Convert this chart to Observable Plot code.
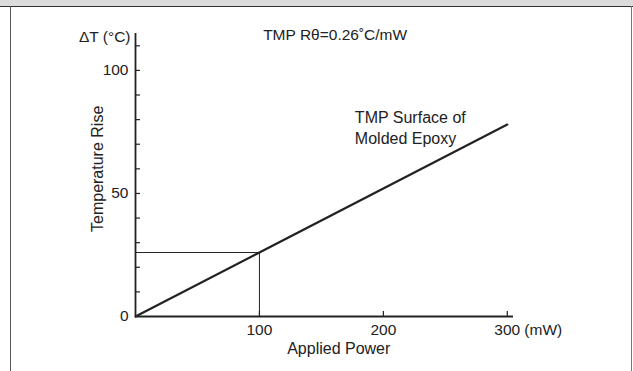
<!DOCTYPE html>
<html>
<head>
<meta charset="utf-8">
<script src="https://cdn.jsdelivr.net/npm/d3@7"></script>
<script src="https://cdn.jsdelivr.net/npm/@observablehq/plot@0.6"></script>
<style>
  html, body { margin: 0; padding: 0; background: #fff; }
  #wrap { position: relative; width: 633px; height: 371px; overflow: hidden; font-family: "Liberation Sans", Arial, sans-serif; }
  #wrap svg { position: absolute; left: 0; top: 0; }
  .hdr { position: absolute; left: 0; top: 0; width: 633px; height: 6px; background: #dcdcdc; border-bottom: 1.5px solid #333; }
  .bl { position: absolute; left: 10px; top: 6px; width: 0; height: 371px; border-left: 1.5px solid #555; }
  .br { position: absolute; left: 631px; top: 6px; width: 0; height: 371px; border-left: 1.5px solid #777; }
</style>
</head>
<body>
<div id="wrap"><div class="hdr"></div><div class="bl"></div><div class="br"></div></div>
<script>
// Data
const powerValues = [0, 300];      // mW
const riseValues = [0, 78];        // °C  (Rθ = 0.26 °C/mW)
const refPower = [100];
const refRise = [26];
const xTickValues = [100, 200, 300];
const xTickLabels = ["100", "200", "300"];
const yMinorTicks = [10, 20, 30, 40, 50, 60, 70, 80, 90, 100, 110];
const yTickLabels = [0, 50, 100];

const line = powerValues.map((p, i) => ({p, t: riseValues[i]}));
const ref = refPower.map((p, i) => ({p, t: refRise[i]}));
const ink = "#222";
const fs = 15.5;

const chart = Plot.plot({
  width: 633,
  height: 371,
  marginLeft: 135,
  marginRight: 120,
  marginTop: 33,
  marginBottom: 55,
  style: {fontFamily: '"Liberation Sans", Arial, sans-serif', background: "transparent", overflow: "visible"},
  x: {domain: [0, 305], axis: null, label: null},
  y: {domain: [0, 115], axis: null, label: null},
  marks: [
    // reference lines at 100 mW
    Plot.ruleX(ref, {x: "p", y1: 0, y2: "t", stroke: ink, strokeWidth: 1}),
    Plot.ruleY(ref, {y: "t", x1: 0, x2: "p", stroke: ink, strokeWidth: 1}),
    // inward ticks
    Plot.axisY({ticks: yMinorTicks, tickSize: -5, tickFormat: () => "", label: null, stroke: ink, strokeWidth: 1.2}),
    Plot.axisX({ticks: xTickValues, tickSize: -5, tickFormat: () => "", label: null, stroke: ink, strokeWidth: 1.2}),
    // axis lines
    Plot.ruleX([0], {stroke: ink, strokeWidth: 1.8}),
    Plot.ruleY([0], {stroke: ink, strokeWidth: 1.8}),
    // data line
    Plot.line(line, {x: "p", y: "t", stroke: ink, strokeWidth: 2.2}),
    // tick labels
    Plot.text(yTickLabels, {x: 0, y: d => d, text: d => String(d), textAnchor: "end", dx: -7, fontSize: fs, fill: ink}),
    Plot.text(xTickValues, {x: d => d, y: 0, text: (d, i) => xTickLabels[i], dy: 14, fontSize: fs, fill: ink}),
    Plot.text(["(mW)"], {x: 300, y: 0, text: d => d, textAnchor: "start", dx: 17, dy: 14, fontSize: fs, fill: ink}),
    // titles & annotations
    Plot.text(["ΔT (°C)"], {x: 0, y: 115, text: d => d, textAnchor: "end", dx: -5, dy: 4, fontSize: fs, fill: ink}),
    Plot.text(["TMP Rθ=0.26˚C/mW"], {x: 103, y: 115, text: d => d, textAnchor: "start", dy: 2, fontSize: fs, fill: ink}),
    Plot.text(["TMP Surface of\nMolded Epoxy"], {x: 177, y: 77, text: d => d, textAnchor: "start", lineHeight: 1.3, fontSize: 16, fill: ink}),
    Plot.text(["Temperature Rise"], {x: -30, y: 60, text: d => d, rotate: -90, fontSize: 16, fill: ink}),
    Plot.text(["Applied Power"], {frameAnchor: "bottom", x: 164, text: d => d, dy: 37, fontSize: 16, fill: ink})
  ]
});
document.getElementById("wrap").prepend(chart);
</script>
</body>
</html>
